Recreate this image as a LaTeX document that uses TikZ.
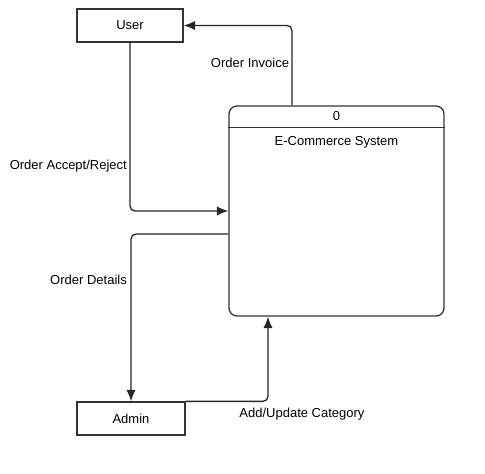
\documentclass[tikz,border=0pt]{standalone}
\usepackage{fontspec}
\setmainfont{Liberation Sans}
\usetikzlibrary{arrows.meta,positioning,calc}

\begin{document}
\begin{tikzpicture}[x=1pt,y=-1pt,font=\fontsize{13}{15}\selectfont,
  ent/.style={draw=black!80,line width=1.3pt,minimum width=106pt,minimum height=33pt,inner sep=0pt},
  proc/.style={draw=black!80,line width=1.3pt,rounded corners=8pt,minimum width=215pt,minimum height=210pt,inner sep=0pt},
  flow/.style={draw=black!85,line width=1.3pt,rounded corners=5pt,-{Latex[length=4mm,width=3.2mm]}},
  lbl/.style={inner sep=0pt}]
\useasboundingbox (0,0) rectangle (485,474);
\node[ent] (user) at (130,25.5) {User};
\node[ent,minimum width=108pt] (admin) at (131,418.5) {Admin};
\node[proc] (sys) at (336.5,211) {};
\draw[draw=black!80,line width=1.3pt] ($(sys.north west)+(0,22)$) -- ($(sys.north east)+(0,22)$);
\node[lbl] (sysid) at ($(sys.north)+(0,11)$) {0};
\node[lbl] (sysname) at ($(sys.north)+(0,37)$) {E-Commerce System};
% data flows
\draw[flow] ($(sys.north)+(-44.5,0)$) |- (user.east);
\draw[flow] (user.south) |- (sys.west);
\draw[flow] ($(sys.west)+(0,23)$) -| (admin.north);
\draw[flow] (admin.north east) -| ($(sys.south)+(-68.5,0)$);
\node[lbl] (invoice) at (250,63) {Order Invoice};
\node[lbl,anchor=east] (accept) at (127,166) {Order Accept/Reject};
\node[lbl,anchor=east] (details) at (127,280) {Order Details};
\node[lbl] (category) at (302,414) {Add/Update Category};
\end{tikzpicture}
\end{document}
